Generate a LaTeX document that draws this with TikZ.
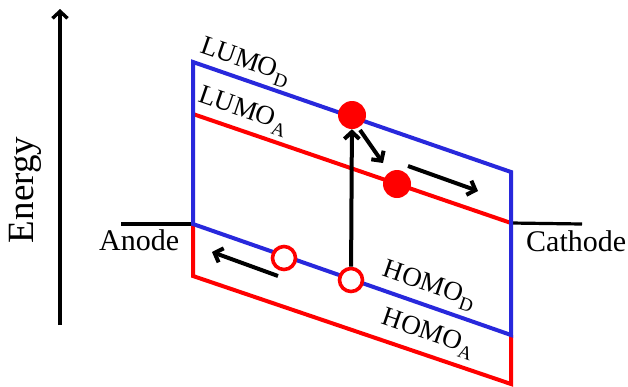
\documentclass[tikz,border=0pt]{standalone}
\usepackage{fontspec}
\setmainfont{Liberation Serif}
\usetikzlibrary{arrows.meta}
\definecolor{bandblue}{RGB}{40,40,220}
\definecolor{bandred}{RGB}{255,0,0}
\newcommand{\subl}[1]{\raisebox{-0.5ex}{\fontsize{19}{19}\selectfont #1}}
\begin{document}
\begin{tikzpicture}[x=1pt,y=-1pt,
  blueline/.style={draw=bandblue,line width=4pt,line join=miter},
  redline/.style={draw=bandred,line width=4pt,line join=miter},
  electrode/.style={draw=black,line width=3.2pt},
  move/.style={draw=black,line width=4pt,-{Straight Barb[length=7pt,width=15pt]}},
  electron/.style={circle,fill=bandred,inner sep=0pt,minimum size=28pt},
  hole/.style={circle,draw=bandred,fill=white,line width=3.6pt,inner sep=0pt,minimum size=23pt},
  lvl/.style={font=\fontsize{27}{27}\selectfont,rotate=-19.1,inner sep=0pt},
  elab/.style={font=\fontsize{30}{30}\selectfont,inner sep=0pt}
]
\useasboundingbox (0,0) rectangle (628,386);
% corners
\coordinate (LDl) at (193,62);
\coordinate (LDr) at (511,172);
\coordinate (LAl) at (193,114);
\coordinate (LAr) at (511,223);
\coordinate (HDl) at (193,224);
\coordinate (HDr) at (511,335);
\coordinate (HAl) at (193,276);
\coordinate (HAr) at (511,384);
\coordinate (An) at (121,224);
\coordinate (Ca) at (582,224);
\coordinate (Ebot) at (60,325);
\coordinate (Etop) at (60,9);
% energy axis
\draw[line width=3.4pt,-{Straight Barb[length=7pt,width=15pt]}] (Ebot) -- (Etop);
\node[font=\fontsize{37}{37}\selectfont,rotate=90,inner sep=0pt] (energy) at (25,190) {Energy};
% electrodes
\draw[electrode] (An) -- (HDl);
\draw[electrode] (LAr) -- (Ca);
\node[elab,anchor=base west] (anode) at (99,250) {Anode};
\node[elab,anchor=base west] (cathode) at (526,251) {Cathode};
% bands
\draw[redline] (HDl) -- (HAl) -- (HAr) -- (HDr);
\draw[redline] (LAl) -- (LAr);
\draw[blueline] (HDl) -- (LDl) -- (LDr) -- (HDr) -- cycle;
% labels
\node[lvl] (lumod) at (245,62) {LUMO\subl{D}};
\node[lvl] (lumoa) at (243,111) {LUMO\subl{A}};
\node[lvl] (homod) at (429,286) {HOMO\subl{D}};
\node[lvl] (homoa) at (428,334) {HOMO\subl{A}};
% carriers
\node[electron] (e1) at (352,115) {};
\node[electron] (e2) at (397,184) {};
\node[hole] (h1) at (351,280) {};
\node[hole] (h2) at (284,258) {};
% arrows
\coordinate (t1) at (360,130);
\coordinate (t1e) at (383,163);
\coordinate (t2) at (408,166);
\coordinate (t2e) at (478,191);
\coordinate (t3) at (278,276);
\coordinate (t3e) at (212,252);
\draw[move] (h1) -- (e1);
\draw[move] (t1) -- (t1e);
\draw[move] (t2) -- (t2e);
\draw[move] (t3) -- (t3e);
\end{tikzpicture}
\end{document}
